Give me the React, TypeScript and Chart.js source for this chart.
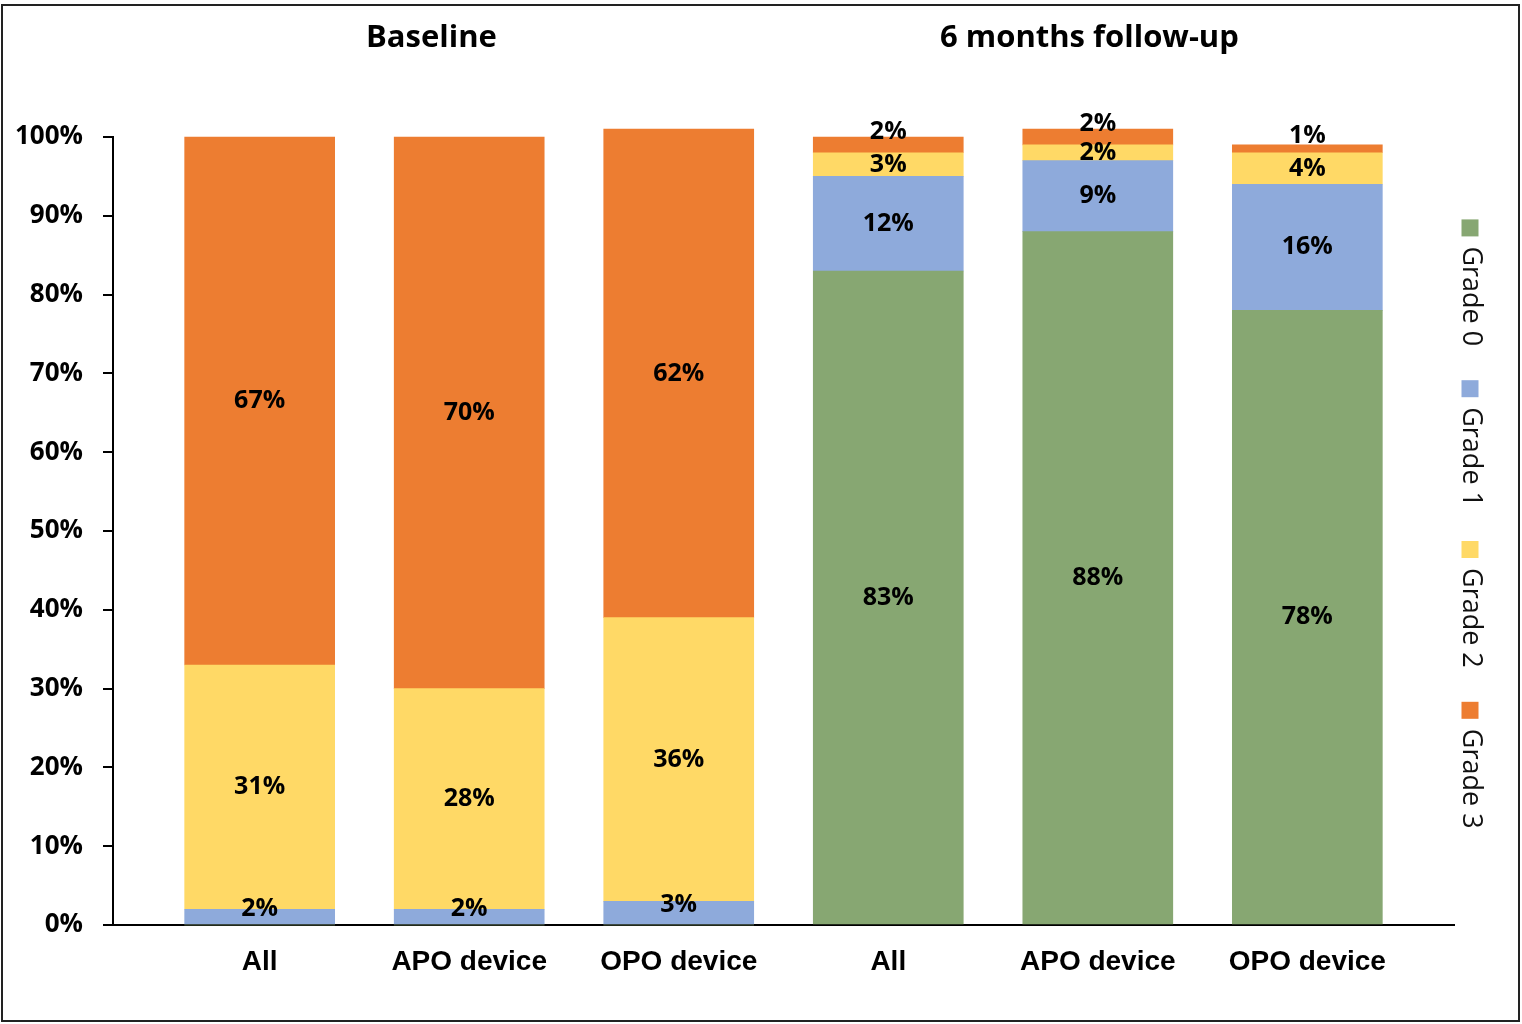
import { useEffect, useRef } from 'react'
import { Chart, registerables, Plugin } from 'chart.js'

Chart.register(...registerables)

// categories along the x axis (index = slot on the linear x scale)
const categories = ['All', 'APO device', 'OPO device', 'All', 'APO device', 'OPO device']
const periods = ['Baseline', '6 months follow-up']
const periodAt = [0.82, 3.96] // where the period titles sit on the x scale

const gradeLabels = ['Grade 0', 'Grade 1', 'Grade 2', 'Grade 3']
const grade0 = [0, 0, 0, 83, 88, 78]
const grade1 = [2, 2, 3, 12, 9, 16]
const grade2 = [31, 28, 36, 3, 2, 4]
const grade3 = [67, 70, 62, 2, 2, 1]

const gradeColors = ['#87a772', '#8eaadb', '#ffd966', '#ed7d31']

const FONT = "'Open Sans', sans-serif"

// period titles above the two groups
const periodTitles: Plugin<'bar'> = {
  id: 'periodTitles',
  afterDraw(chart) {
    const { ctx } = chart
    const xs = chart.scales.x
    ctx.save()
    ctx.font = `bold 31px ${FONT}`
    ctx.fillStyle = '#000'
    ctx.textAlign = 'center'
    ctx.textBaseline = 'middle'
    periods.forEach((p, i) => ctx.fillText(p, xs.getPixelForValue(periodAt[i]), 38))
    ctx.restore()
  },
}

// percentage labels inside the stacked segments
const segmentLabels: Plugin<'bar'> = {
  id: 'segmentLabels',
  afterDatasetsDraw(chart) {
    const { ctx } = chart
    const last = chart.data.datasets.length - 1
    ctx.save()
    ctx.font = `bold 25px ${FONT}`
    ctx.fillStyle = '#000'
    ctx.textAlign = 'center'
    ctx.textBaseline = 'middle'
    chart.data.datasets.forEach((ds, di) => {
      const meta = chart.getDatasetMeta(di)
      meta.data.forEach((el, i) => {
        const v = (ds.data[i] as any).y as number
        if (!v) return
        const { y, base } = el.getProps(['y', 'base'], true) as any
        let cy = (y + base) / 2
        if (v < 5) {
          const below = chart.data.datasets.slice(0, di).some((d) => (d.data[i] as any).y > 0)
          if (!below) cy -= 8
          else if (di === last) cy -= 13
        }
        ctx.fillText(`${v}%`, el.x, cy)
      })
    })
    ctx.restore()
  },
}

// legend on the right, rotated to read top to bottom
const sideLegend: Plugin<'bar'> = {
  id: 'sideLegend',
  afterDraw(chart) {
    const { ctx, chartArea } = chart
    const box = 17
    const gap = 10
    const spacing = 34
    const cx = 1470
    ctx.save()
    ctx.font = `27px ${FONT}`
    const items = chart.data.datasets.map((ds) => ({
      text: ds.label as string,
      color: ds.backgroundColor as string,
      w: ctx.measureText(ds.label as string).width,
    }))
    const total = items.reduce((s, it) => s + box + gap + it.w, 0) + spacing * (items.length - 1)
    let y = (chartArea.top + chartArea.bottom) / 2 - 7 - total / 2
    items.forEach((it) => {
      ctx.fillStyle = it.color
      ctx.fillRect(cx - box / 2, y, box, box)
      y += box + gap
      ctx.save()
      ctx.translate(cx + 1, y)
      ctx.rotate(Math.PI / 2)
      ctx.fillStyle = '#111'
      ctx.textAlign = 'left'
      ctx.textBaseline = 'middle'
      ctx.fillText(it.text, 0, 0)
      ctx.restore()
      y += it.w + spacing
    })
    ctx.restore()
  },
}

// white page and thin outer frame
const frame: Plugin<'bar'> = {
  id: 'frame',
  beforeDraw(chart) {
    const { ctx, width, height } = chart
    ctx.save()
    ctx.fillStyle = '#fff'
    ctx.fillRect(0, 0, width, height)
    ctx.restore()
  },
  afterDraw(chart) {
    const { ctx } = chart
    ctx.save()
    ctx.strokeStyle = '#222'
    ctx.lineWidth = 2
    ctx.strokeRect(2, 5, 1517, 1016)
    ctx.restore()
  },
}

export default function App() {
  const canvasRef = useRef<HTMLCanvasElement | null>(null)
  const chartRef = useRef<Chart | null>(null)

  useEffect(() => {
    const ctx = canvasRef.current?.getContext('2d')
    if (!ctx) return

    const series = [grade0, grade1, grade2, grade3]
    chartRef.current?.destroy()
    chartRef.current = new Chart(ctx, {
      type: 'bar',
      data: {
        datasets: series.map((vals, k) => ({
          label: gradeLabels[k],
          data: vals.map((v, i) => ({ x: i, y: v })),
          backgroundColor: gradeColors[k],
          borderWidth: 0,
          barThickness: 150,
          clip: false as any,
        })),
      },
      options: {
        animation: false,
        responsive: true,
        maintainAspectRatio: false,
        layout: { padding: { left: 10, right: 68, top: 137, bottom: 0 } },
        plugins: {
          legend: { display: false },
          tooltip: { enabled: false },
        },
        scales: {
          x: {
            type: 'linear',
            stacked: true,
            offset: false,
            min: -0.7,
            max: 5.7,
            afterBuildTicks: (s) => {
              s.ticks = categories.map((_, i) => ({ value: i }))
            },
            afterFit: (s) => {
              s.height = 99
            },
            grid: { display: false, drawTicks: false },
            border: { display: true, color: '#000', width: 2 },
            ticks: {
              autoSkip: false,
              maxRotation: 0,
              padding: 20,
              color: '#000',
              font: { family: "'Liberation Sans', Arial, sans-serif", size: 28, weight: 'bold' },
              callback: (v) => categories[Number(v)] ?? '',
            },
          },
          y: {
            stacked: true,
            min: 0,
            max: 100,
            afterFit: (s) => {
              s.width = 103
            },
            grid: {
              drawOnChartArea: false,
              drawTicks: true,
              tickLength: 10,
              color: '#000',
              lineWidth: 2,
            },
            border: { display: true, color: '#000', width: 2 },
            ticks: {
              stepSize: 10,
              padding: 20,
              color: '#000',
              font: { family: FONT, size: 26, weight: 'bold' },
              callback: (v) => `${v}%`,
            },
          },
        },
      },
      plugins: [frame, periodTitles, segmentLabels, sideLegend],
    })

    return () => {
      chartRef.current?.destroy()
      chartRef.current = null
    }
  }, [])

  return (
    <div style={{ position: 'fixed', left: 0, top: 0, width: 1522, height: 1024, background: '#fff' }}>
      <canvas ref={canvasRef} />
    </div>
  )
}
